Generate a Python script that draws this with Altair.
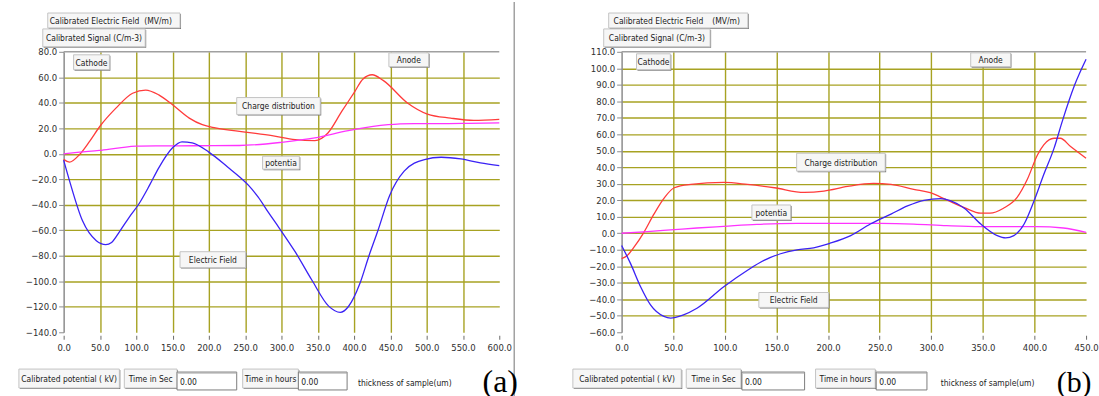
import altair as alt
import pandas as pd

# ---------------- data ----------------
# panel (a)
a_x_charge = [0, 8, 22, 36, 50, 72, 95, 113, 131, 150, 173, 191, 209, 250, 287, 319, 346, 364, 383, 401, 412, 425, 440, 474, 501, 533, 565, 600]
a_charge = [-4.4, -6.5, -0.5, 10, 21.6, 35.8, 47.5, 50, 46.2, 38.4, 28, 22.8, 20.3, 17, 14.2, 11.1, 10.3, 16.3, 33.2, 48.8, 58.5, 62, 57.6, 39.7, 31.2, 28, 26.2, 27]
a_x_pot = [0, 22, 49, 77, 100, 130, 180, 242, 300, 346, 392, 447, 483, 550, 600]
a_pot = [0, 1.3, 2.6, 4.7, 6.0, 6.2, 6.3, 6.5, 9, 12.4, 18.1, 22.8, 23.6, 23.8, 24.2]
a_x_field = [0, 8, 26, 45, 58, 66, 77, 90, 104, 118, 131, 150, 163, 177, 200, 227, 240, 255, 268, 282, 296, 319, 342, 365, 381, 392, 408, 420, 433, 449, 469, 497, 520, 547, 574, 600]
a_field = [-5, -21, -52.6, -68.2, -71.3, -69.5, -61, -50, -39, -25, -11, 4.7, 9.3, 8.6, 1.3, -10.9, -17, -25, -34, -46, -57.5, -77, -99.2, -119.5, -124.4, -120, -101.8, -80.9, -60, -32.7, -13.6, -4.5, -2.7, -4, -7.1, -9.2]
a_xticks = [0, 50, 100, 150, 200, 250, 300, 350, 400, 450, 500, 550, 600]
a_yticks = [-140, -120, -100, -80, -60, -40, -20, 0, 20, 40, 60, 80]

# panel (b)
b_x_charge = [0, 5.5, 12, 21.6, 31.3, 41, 51, 67, 99, 122, 148, 177, 196, 219, 244, 261, 283, 299, 315, 332, 348, 357, 370, 383, 393, 403, 409, 419, 425, 435, 450]
b_charge = [-15.4, -13.4, -8.4, 0.6, 11.6, 21.2, 27.6, 29.6, 30.8, 29.6, 27.6, 24.8, 25.6, 28.4, 30.2, 29.6, 26.6, 24.6, 20.2, 15.6, 12.2, 12.2, 15.2, 21.6, 32.6, 47.6, 53.6, 57.6, 57.6, 52.6, 45.5]
b_x_pot = [0, 25, 51, 73, 99, 131, 170, 251, 283, 315, 348, 402, 428, 450]
b_pot = [0, 1, 2.2, 3.2, 4.2, 5.4, 6, 6, 5.6, 4.6, 4, 4, 3.2, 0.6]
b_x_field = [0, 8.7, 18.4, 28, 41, 47.5, 60, 73, 99, 122, 138, 154, 170, 186, 202, 222, 241, 261, 277, 293, 309, 319, 332, 348, 364, 372, 380, 390, 399, 409, 419, 427, 439, 450]
b_field = [-7.4, -18.4, -32.4, -43.4, -50.4, -51.4, -49.4, -45.4, -32.4, -22.4, -16.4, -12.4, -10, -8.8, -6, -1.4, 5.6, 11.6, 16.6, 20, 21, 19.6, 15.2, 5.6, -1.4, -2.8, -1.4, 5.6, 18.6, 35.6, 51.6, 68, 90, 105.5]
b_xticks = [0, 50, 100, 150, 200, 250, 300, 350, 400, 450]
b_yticks = [-60, -50, -40, -30, -20, -10, 0, 10, 20, 30, 40, 50, 60, 70, 80, 90, 100, 110]

series_names = ["Charge distribution", "potentia", "Electric Field"]

# ---------------- styling ----------------
FONT = "Liberation Sans Narrow, DejaVu Sans Condensed, Liberation Sans, sans-serif"
TXT = 8.5
GRID = "#a7a222"
RED = "#ff3b3b"
MAG = "#ff33ff"
BLUE = "#3a22f5"
FRAME = "#8c8c8c"
ONE = alt.Data(values=[{"k": 0}])


def rect(x0, y0, x1, y1, fill, stroke=None, sw=1, opacity=1):
    kw = dict(fill=fill, opacity=opacity)
    if stroke:
        kw.update(stroke=stroke, strokeWidth=sw)
    else:
        kw.update(strokeWidth=0)
    return alt.Chart(ONE).mark_rect(**kw).encode(
        x=alt.value(x0), x2=alt.value(x1), y=alt.value(y0), y2=alt.value(y1))


def text(s, x, y, size=TXT, align="center", font=FONT, color="#1a1a1a", baseline="middle"):
    return alt.Chart(ONE).mark_text(text=s, font=font, fontSize=size, align=align,
                                    baseline=baseline, color=color).encode(
        x=alt.value(x), y=alt.value(y))


def rule(x0, y0, x1, y1, color, w=1):
    return alt.Chart(ONE).mark_rule(color=color, strokeWidth=w).encode(
        x=alt.value(x0), x2=alt.value(x1), y=alt.value(y0), y2=alt.value(y1))


def button(x0, y0, x1, y1, label, cx=None):
    layers = [rect(x0 + 1, y0 + 1, x1 + 1, y1 + 1, "#7a7a7a"),
              rect(x0, y0, x1, y1, "#f6f6f6", "#c4c4c4")]
    layers.append(text(label, (x0 + x1) / 2 if cx is None else cx, (y0 + y1) / 2 + 0.5))
    return layers


def field_box(x0, y0, x1, y1, value):
    return [rect(x0, y0, x1, y1, "#ffffff", "#7c7c7c"),
            rule(x0 + 1, y0 + 1, x1, y0 + 1, "#a8a8a8"),
            text(value, x0 + 3, (y0 + y1) / 2 + 1, align="left")]


def panel(xs_list, ys_list, xticks, yticks, width, height, chrome):
    rows = []
    for name, xs, ys in zip(series_names, xs_list, ys_list):
        for xv, yv in zip(xs, ys):
            rows.append({"x": xv, "y": yv, "s": name})
    df = pd.DataFrame(rows)
    xdom = [xticks[0], xticks[-1]]
    ydom = [yticks[0], yticks[-1]]
    hide_x = {"condition": {"test": f"datum.value <= {xdom[0]} || datum.value >= {xdom[1]}", "value": 0}, "value": 1}
    hide_y = {"condition": {"test": f"datum.value <= {ydom[0]} || datum.value >= {ydom[1]}", "value": 0}, "value": 1}
    x_axis = alt.Axis(values=xticks, format=".1f", title=None, domain=False,
                      ticks=True, tickColor="#6a6a6a", tickSize=4, offset=3,
                      labelPadding=3, labelFont=FONT, labelFontSize=9.5,
                      labelColor="#303030", grid=True, gridColor=GRID,
                      gridWidth=1.4, gridOpacity=hide_x, labelFlush=False)
    y_axis = alt.Axis(values=yticks, format=".1f", title=None, domain=True,
                      domainColor=FRAME, domainWidth=1.5, ticks=True,
                      tickColor=FRAME, tickSize=5, labelPadding=2,
                      labelFont=FONT, labelFontSize=9.5, labelColor="#303030",
                      grid=True, gridColor=GRID, gridWidth=1.4,
                      gridOpacity=hide_y, labelFlush=False)
    lines = alt.Chart(df).mark_line(strokeWidth=1.3, interpolate="monotone").encode(
        x=alt.X("x:Q", scale=alt.Scale(domain=xdom, nice=False, zero=False), axis=x_axis),
        y=alt.Y("y:Q", scale=alt.Scale(domain=ydom, nice=False, zero=False), axis=y_axis),
        color=alt.Color("s:N", scale=alt.Scale(domain=series_names, range=[RED, MAG, BLUE]), legend=None),
    )
    top = rule(0, 0, width, 0, "#a0a0a0", 1.5)
    return alt.layer(*(chrome[:1] + [top, lines] + chrome[1:])).properties(width=width, height=height)


# ---------- panel (a) chrome (pixel offsets from the plot's top-left) ----------
A_W, A_H = 438, 282
chrome_a = [rect(-64, -50, 1035, 346, "#ffffff", opacity=0),
            rule(453, -50, 453, 346, "#8a8a8a", 1.2)]
chrome_a += [rect(-15, -38, 118, -23, "#7a7a7a"), rect(-16, -39, 117, -24, "#f6f6f6", "#c4c4c4"),
             text("Calibrated Electric Field", 31, -30.5), text("(MV/m)", 95, -30.5)]
chrome_a += button(-21, -23, 82, -5, "Calibrated Signal (C/m-3)")
chrome_a += button(10, 3, 46, 18, "Cathode")
chrome_a += button(327, 1, 367, 15, "Anode")
chrome_a += button(174, 46, 258, 63, "Charge distribution")
chrome_a += button(200, 105, 237, 118, "potentia")
chrome_a += button(117, 201, 183, 217, "Electric Field")
chrome_a += button(-45, 319, 56, 338, "Calibrated potential ( kV)")
chrome_a += button(61, 319, 114, 338, "Time in Sec")
chrome_a += field_box(114, 322, 174, 340, "0.00")
chrome_a += button(180, 319, 236, 338, "Time in hours")
chrome_a += field_box(236, 322, 285, 340, "0.00")
chrome_a += [text("thickness of sample(um)", 343, 333),
             text("(a)", 439, 342, size=32, font="Liberation Serif, DejaVu Serif, serif",
                  color="#000000", baseline="alphabetic")]

# ---------- panel (b) chrome ----------
B_W, B_H = 467, 282
chrome_b = [rect(0, 0, 1, 1, "#ffffff", opacity=0)]
chrome_b += [rect(-12, -38, 128, -23, "#7a7a7a"), rect(-13, -39, 127, -24, "#f6f6f6", "#c4c4c4"),
             text("Calibrated Electric Field", 37, -30.5), text("(MV/m)", 105, -30.5)]
chrome_b += button(-18, -23, 89, -5, "Calibrated Signal (C/m-3)")
chrome_b += button(15, 2, 49, 18, "Cathode")
chrome_b += button(351, 1, 391, 15, "Anode")
chrome_b += button(176, 102, 265, 120, "Charge distribution")
chrome_b += button(131, 154, 170, 169, "potentia")
chrome_b += button(138, 242, 208, 257, "Electric Field")
chrome_b += button(-49, 319, 60, 338, "Calibrated potential ( kV)")
chrome_b += button(65, 319, 120, 338, "Time in Sec")
chrome_b += field_box(121, 322, 184, 340, "0.00")
chrome_b += button(195, 319, 255, 338, "Time in hours")
chrome_b += field_box(256, 322, 307, 340, "0.00")
chrome_b += [text("thickness of sample(um)", 368, 333),
             text("(b)", 455, 342, size=30, font="Liberation Serif, DejaVu Serif, serif",
                  color="#000000", baseline="alphabetic")]

pa = panel([a_x_charge, a_x_pot, a_x_field], [a_charge, a_pot, a_field], a_xticks, a_yticks, A_W, A_H, chrome_a)
pb = panel([b_x_charge, b_x_pot, b_x_field], [b_charge, b_pot, b_field], b_xticks, b_yticks, B_W, B_H, chrome_b)

chart = alt.hconcat(pa, pb, spacing=123, bounds="flush").properties(
    padding=0, background="#ffffff"
).configure_view(stroke=None)

chart.save("out.html", embed_options={"renderer": "svg", "actions": False})
